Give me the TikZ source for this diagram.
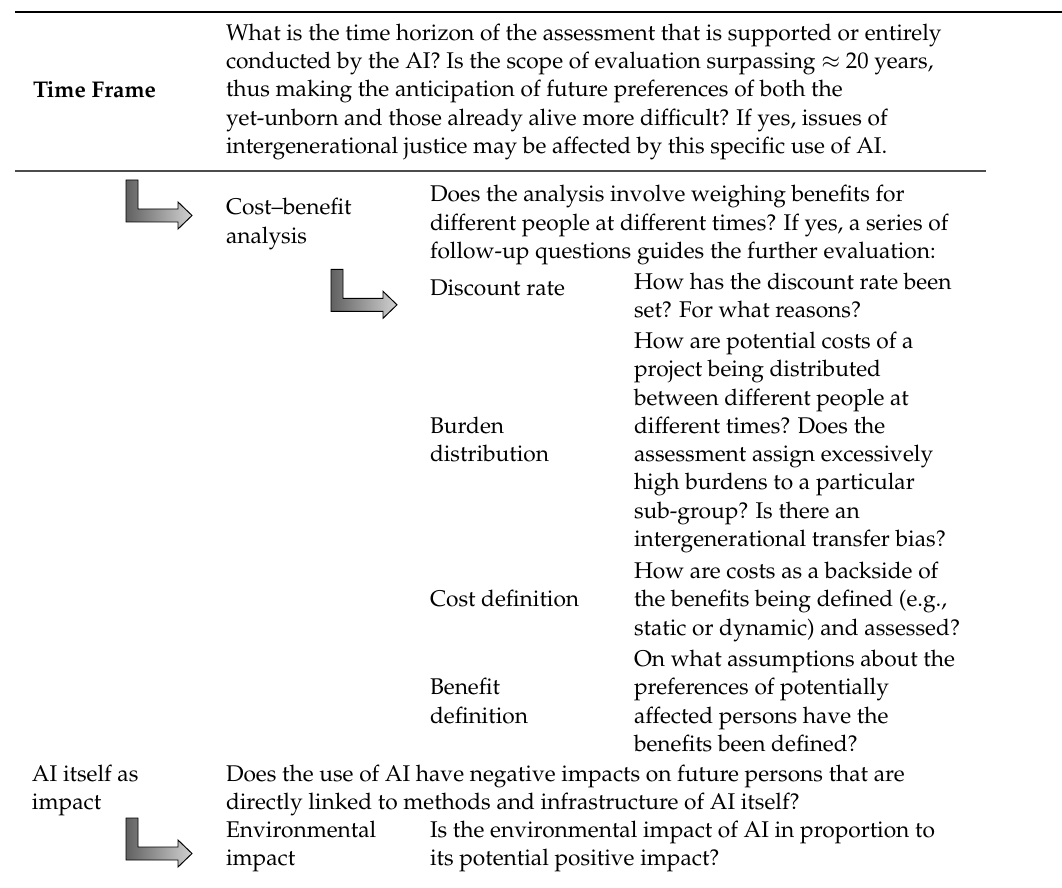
\documentclass[tikz,border=0pt]{standalone}
\usepackage[T1]{fontenc}
\usepackage{mathpazo}
\newcommand{\blk}[1]{\begin{tabular}[t]{@{}l@{}}#1\end{tabular}}
\tikzset{
  txt/.style={anchor=base west, inner sep=0pt, outer sep=0pt, font=\fontsize{10.45}{13}\selectfont},
  turnarrow/.style={draw=black, line width=0.45pt, left color=black!62, right color=black!18},
  pics/turnarr/.style={code={
    \path[turnarrow] (0,0) -- (12,0) -- (12,29) -- (52,29) -- (52,22) -- (66,35.5)
      -- (52,49) -- (52,42) -- (0,42) -- cycle;}},
  toprule/.style={line width=1.1pt, black},
  midrule/.style={line width=0.6pt, black!70},
}
\begin{document}
\begin{tikzpicture}[x=0.46pt, y=-0.46pt]
\useasboundingbox (0,0) rectangle (1062,887);
\fill[white] (0,0) rectangle (1062,887);
% rules
\coordinate (t1) at (15,12);   \coordinate (t2) at (1062,12);
\coordinate (m1) at (15,171);  \coordinate (m2) at (986,171);
\draw[toprule] (t1) -- (t2);
\draw[midrule] (m1) -- (m2);
% Time frame row
\node[txt] (tf) at (33,97.5) {\textbf{Time Frame}};
\node[txt] (tfq) at (226,40.3) {\blk{What is the time horizon of the assessment that is supported or entirely\\
conducted by the AI? Is the scope of evaluation surpassing $\approx$ 20 years,\\
thus making the anticipation of future preferences of both the\\
yet-unborn and those already alive more difficult? If yes, issues of\\
intergenerational justice may be affected by this specific use of AI.}};
% cost-benefit
\pic at (126,180) {turnarr};
\node[txt] (cb) at (226,215) {\blk{Cost--benefit\\analysis}};
\node[txt] (cbq) at (430,202) {\blk{Does the analysis involve weighing benefits for\\
different people at different times? If yes, a series of\\
follow-up questions guides the further evaluation:}};
% discount rate
\pic at (331,269.3) {turnarr};
\node[txt] (dr) at (430,295) {Discount rate};
\node[txt] (drq) at (634,289.4) {\blk{How has the discount rate been\\set? For what reasons?}};
% burden
\node[txt] (bdq) at (634,348.5) {\blk{How are potential costs of a\\
project being distributed\\
between different people at\\
different times? Does the\\
assessment assign excessively\\
high burdens to a particular\\
sub-group? Is there an\\
intergenerational transfer bias?}};
\node[txt] (bd) at (430,433.4) {\blk{Burden\\distribution}};
% cost definition
\node[txt] (cdq) at (634,578.5) {\blk{How are costs as a backside of\\
the benefits being defined (e.g.,\\
static or dynamic) and assessed?}};
\node[txt] (cd) at (430,606.8) {Cost definition};
% benefit definition
\node[txt] (bfq) at (634,666.5) {\blk{On what assumptions about the\\
preferences of potentially\\
affected persons have the\\
benefits been defined?}};
\node[txt] (bf) at (430,694.8) {\blk{Benefit\\definition}};
% AI itself
\node[txt] (ai) at (32,781) {\blk{AI itself as\\impact}};
\node[txt] (aiq) at (226,781) {\blk{Does the use of AI have negative impacts on future persons that are\\
directly linked to methods and infrastructure of AI itself?}};
% environmental
\pic at (126,818) {turnarr};
\node[txt] (ei) at (226,837.6) {\blk{Environmental\\impact}};
\node[txt] (eiq) at (430,837.6) {\blk{Is the environmental impact of AI in proportion to\\
its potential positive impact?}};
\end{tikzpicture}
\end{document}
